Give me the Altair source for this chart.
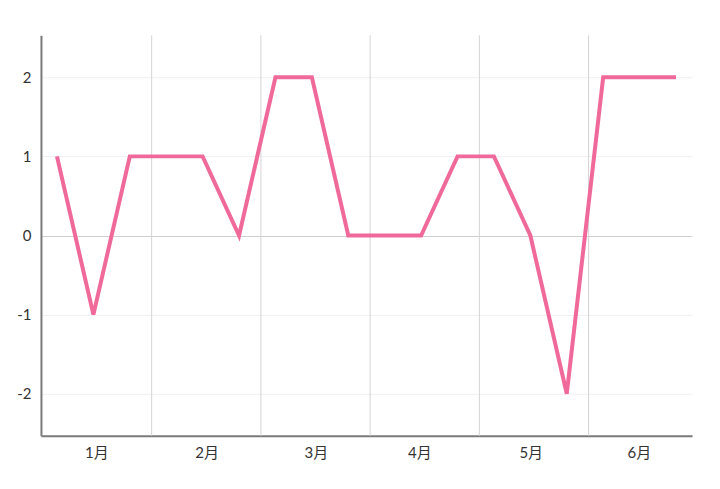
import json
import altair as alt
import pandas as pd

# Data
idx = list(range(18))
values = [1, -1, 1, 1, 1, 0, 2, 2, 0, 0, 0, 1, 1, 0, -2, 2, 2, 2]
months = ["1月", "2月", "3月", "4月", "5月", "6月"]
label_pos = [1.08, 4.11, 7.11, 9.95, 13.01, 15.98]
grid_pos = [2.6, 5.6, 8.6, 11.6, 14.6]
y_ticks = [-2, -1, 0, 1, 2]

df = pd.DataFrame({"i": idx, "v": values})
gdf = pd.DataFrame({"g": grid_pos})

FONT = "Lato, Noto Sans CJK JP, sans-serif"
xdom = [-0.44, 17.44]
ydom = [-2.53, 2.53]

label_expr = f"{json.dumps(months, ensure_ascii=False)}[indexof({json.dumps(label_pos)}, datum.value)]"

xscale = alt.Scale(domain=xdom, nice=False, zero=False)
yscale = alt.Scale(domain=ydom, nice=False, zero=False)

xaxis = alt.Axis(
    values=label_pos,
    labelExpr=label_expr,
    grid=False,
    ticks=False,
    title=None,
    domainColor="#7a7a7a",
    domainWidth=2,
    labelFont=FONT,
    labelFontSize=15,
    labelColor="#333333",
    labelPadding=10,
)

yaxis = alt.Axis(
    values=y_ticks,
    labelExpr="'' + datum.value",
    ticks=False,
    title=None,
    grid=True,
    gridColor={"condition": {"test": "datum.value === 0", "value": "#cfcfcf"}, "value": "#f0f0f0"},
    gridWidth=1,
    domainColor="#7a7a7a",
    domainWidth=2,
    labelFont=FONT,
    labelFontSize=15,
    labelColor="#333333",
    labelPadding=10,
)

grid = alt.Chart(gdf).mark_rule(color="#d4d4d4", strokeWidth=1).encode(
    x=alt.X("g:Q", scale=xscale, axis=xaxis)
)

line = alt.Chart(df).mark_line(color="#ef6a9b", strokeWidth=4, strokeJoin="miter").encode(
    x=alt.X("i:Q", scale=xscale, axis=xaxis),
    y=alt.Y("v:Q", scale=yscale, axis=yaxis),
)

chart = (
    alt.layer(grid, line)
    .properties(
        width=652,
        height=401,
        autosize="none",
        padding={"left": 33, "top": 27, "right": 20, "bottom": 45},
    )
    .configure_view(stroke=None)
)

chart.save("out.html", embed_options={"renderer": "svg", "actions": False})
